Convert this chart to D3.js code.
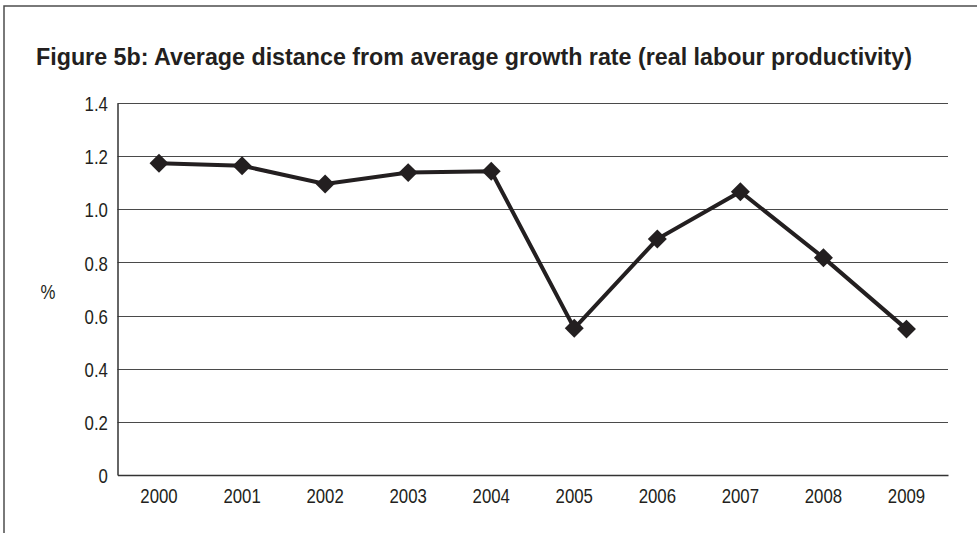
<!DOCTYPE html>
<html>
<head>
<meta charset="utf-8">
<script src="https://cdn.jsdelivr.net/npm/d3@7"></script>
<style>
  html, body { margin: 0; padding: 0; background: #fff; }
  svg { display: block; }
  text { font-family: "Liberation Sans Narrow", "Liberation Sans", "DejaVu Sans", sans-serif; fill: #231f20; }
</style>
</head>
<body>
<svg id="chart" width="977" height="533"></svg>
<script>
// Years on the category axis
const years = ["2000", "2001", "2002", "2003", "2004", "2005", "2006", "2007", "2008", "2009"];
// Average distance from average growth rate, real labour productivity (%)
const distance = [1.173, 1.164, 1.095, 1.138, 1.143, 0.552, 0.888, 1.066, 0.818, 0.549];
// Value axis ticks
const yTicks = [0, 0.2, 0.4, 0.6, 0.8, 1.0, 1.2, 1.4];
const yTickLabels = ["0", "0.2", "0.4", "0.6", "0.8", "1.0", "1.2", "1.4"];

const titleText = "Figure 5b: Average distance from average growth rate (real labour productivity)";
const unitLabel = "%";

const svg = d3.select("#chart");
const W = 977, H = 533;
const plot = { left: 117.5, right: 948, top: 103, bottom: 475 };
// Horizontal squeeze giving the labels a condensed face
const narrow = "scale(0.8,1)";

// Outer frame: top and left rules only
svg.append("path")
  .attr("d", `M4,${H} L4,6 L${W},6`)
  .attr("fill", "none")
  .attr("stroke", "#4d4d4d")
  .attr("stroke-width", 1.5);

// Title
svg.append("text")
  .attr("x", 36)
  .attr("y", 65)
  .attr("font-size", 23)
  .attr("font-weight", "bold")
  .attr("textLength", 876)
  .attr("lengthAdjust", "spacingAndGlyphs")
  .text(titleText);

const x = d3.scaleBand().domain(years).range([plot.left, plot.right]).padding(0);
const y = d3.scaleLinear().domain([0, 1.4]).range([plot.bottom, plot.top]);

// Horizontal gridlines
svg.append("g")
  .selectAll("line")
  .data(yTicks.filter(d => d > 0))
  .join("line")
  .attr("x1", plot.left)
  .attr("x2", plot.right)
  .attr("y1", d => Math.round(y(d)) + 0.5)
  .attr("y2", d => Math.round(y(d)) + 0.5)
  .attr("stroke", "#4a4a4a")
  .attr("stroke-width", 1.2);

// Value axis
const yAxis = d3.axisLeft(y)
  .tickValues(yTicks)
  .tickFormat((d, i) => yTickLabels[i])
  .tickSize(0)
  .tickPadding(12);
const gy = svg.append("g")
  .attr("transform", `translate(${plot.left},0)`)
  .call(yAxis);
gy.select(".domain").attr("stroke", "#333").attr("stroke-width", 1.5);
gy.selectAll(".tick text")
  .attr("font-size", 21)
  .attr("fill", "#231f20")
  .attr("dy", "0.36em")
  .attr("transform", narrow)
  .style("font-family", "'Liberation Sans', 'DejaVu Sans', sans-serif");

// Category axis
const xAxis = d3.axisBottom(x).tickSize(0).tickPadding(13);
const gx = svg.append("g")
  .attr("transform", `translate(0,${plot.bottom})`)
  .call(xAxis);
gx.select(".domain").attr("stroke", "#333").attr("stroke-width", 1.5);
gx.selectAll(".tick text")
  .attr("font-size", 21)
  .attr("fill", "#231f20")
  .attr("transform", narrow)
  .style("font-family", "'Liberation Sans', 'DejaVu Sans', sans-serif");

// Unit label
svg.append("text")
  .attr("transform", `translate(48,299) ${narrow}`)
  .attr("text-anchor", "middle")
  .attr("font-size", 21)
  .text(unitLabel);

// Series line
const cx = (d, i) => x(years[i]) + x.bandwidth() / 2;
const line = d3.line().x(cx).y(d => y(d));
svg.append("path")
  .datum(distance)
  .attr("d", line)
  .attr("fill", "none")
  .attr("stroke", "#231f20")
  .attr("stroke-width", 4)
  .attr("stroke-linejoin", "miter");

// Diamond markers
const diamond = d3.symbol().type(d3.symbolSquare).size(180);
svg.append("g")
  .selectAll("path")
  .data(distance)
  .join("path")
  .attr("d", diamond)
  .attr("transform", (d, i) => `translate(${cx(d, i)},${y(d)}) rotate(45)`)
  .attr("fill", "#231f20");
</script>
</body>
</html>
